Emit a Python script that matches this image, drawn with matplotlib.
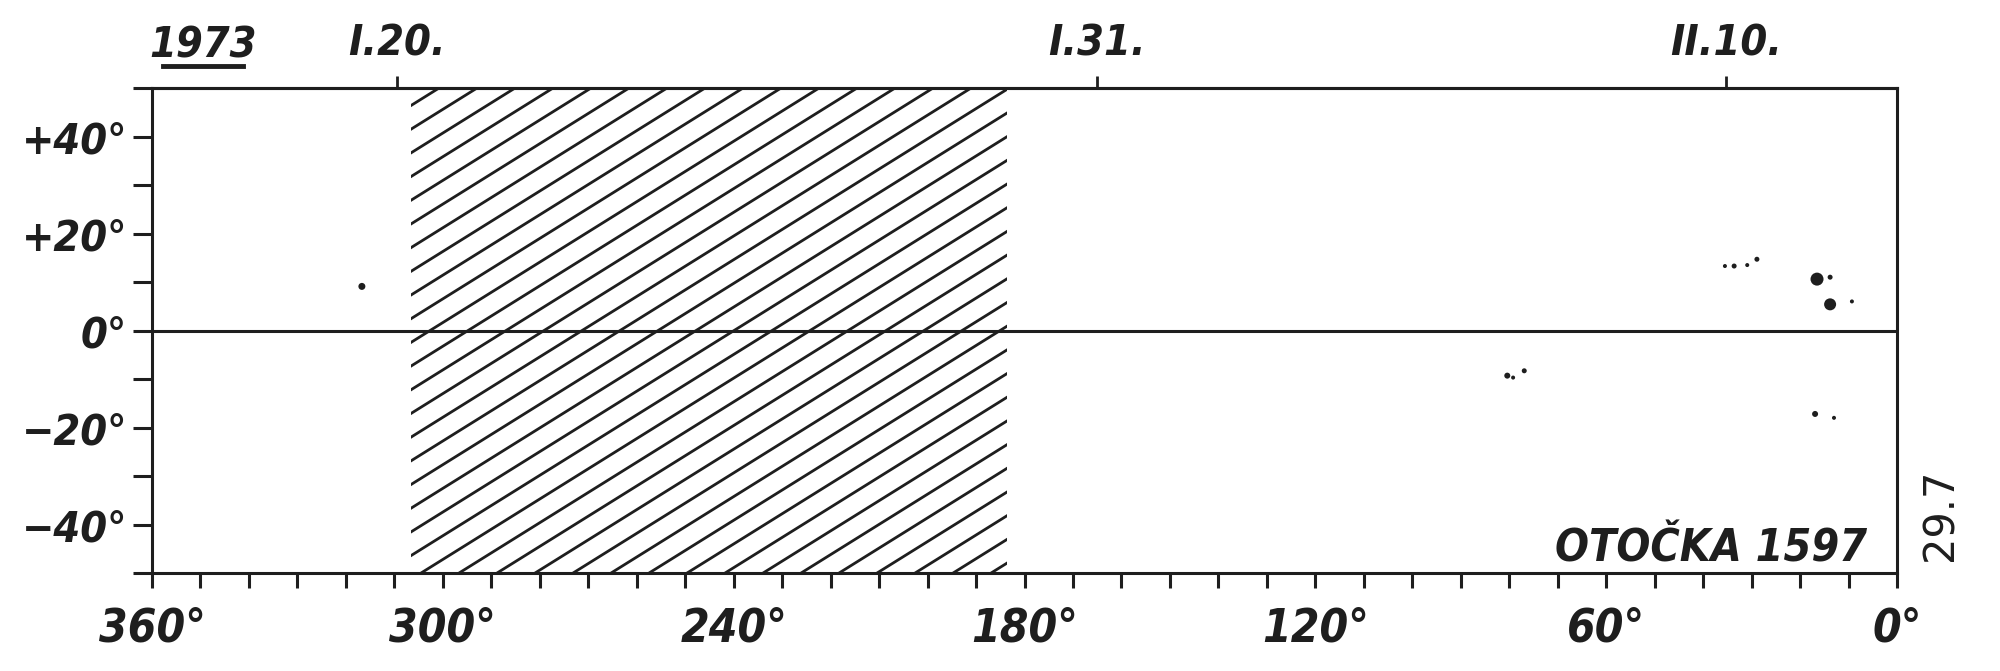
import numpy as np
import matplotlib
matplotlib.use("Agg")
import matplotlib.pyplot as plt
from matplotlib.patches import Rectangle
from matplotlib.lines import Line2D

plt.rcParams['font.family'] = ['DejaVu Sans']
plt.rcParams['font.stretch'] = 'condensed'
plt.rcParams['font.weight'] = 'bold'

ink = '#1e1e1e'

# observed spots: longitude, latitude (deg), spot diameter (px)
spot_lon = [316.7, 35.5, 33.6, 30.9, 28.9, 16.5, 13.8, 13.8, 9.3,
            80.4, 79.2, 76.9, 16.9, 13.0]
spot_lat = [9.1, 13.3, 13.3, 13.5, 14.7, 10.6, 11.0, 5.4, 6.0,
            -9.3, -9.7, -8.3, -17.2, -18.0]
spot_size = [7, 4, 5, 4, 5, 13, 5, 12, 4, 6, 4, 5, 6, 4]

# hatched (no data) interval
gap_lon = (183.6, 306.5)

# date marks on top axis
date_lon = [309.5, 165.0, 35.3]
date_labels = ['I.20.', 'I.31.', 'II.10.']

xlabels = ['360°', '300°', '240°', '180°', '120°', '60°', '0°']
xlabel_pos = [360, 300, 240, 180, 120, 60, 0]
ylabels = ['+40°', '+20°', '0°', '−20°', '−40°']
ylabel_pos = [40, 20, 0, -20, -40]

fig = plt.figure(figsize=(20, 6.71), dpi=100)
ax = fig.add_axes([0.076, 0.146, 0.8725, 0.7228])
ax.set_xlim(360, 0)
ax.set_ylim(-50, 50)

for s in ax.spines.values():
    s.set_linewidth(2.2)
    s.set_color(ink)

ax.set_xticks(xlabel_pos, labels=xlabels)
ax.set_xticks(np.arange(0, 361, 10), minor=True)
ax.set_yticks(ylabel_pos, labels=ylabels)
ax.set_yticks(np.arange(-50, 51, 10), minor=True)
ax.tick_params(axis='x', which='both', direction='out', length=11, width=2.2,
               color=ink, pad=13, labelsize=33, labelcolor=ink)
ax.tick_params(axis='y', which='both', direction='out', length=14, width=2.2,
               color=ink, pad=4, labelsize=31, labelcolor=ink)
for lab in ax.get_xticklabels() + ax.get_yticklabels():
    lab.set_fontstyle('italic')

ax.axhline(0, color=ink, lw=2.2)

# hatched gap, lines rising to the right
rect = Rectangle((gap_lon[0], -50), gap_lon[1] - gap_lon[0], 100,
                 fill=False, lw=0)
ax.add_patch(rect)
slope = 0.623
step = 7.84
cross = np.arange(255.6 - 30 * step, 255.6 + 30 * step, step)
for c in cross:
    lon = np.array([c + 90, c - 90])
    ln, = ax.plot(lon, slope * (c - lon), color=ink, lw=2.0)
    ln.set_clip_path(rect)

# spots
ax.scatter(spot_lon, spot_lat, s=(np.array(spot_size) * 0.72) ** 2,
           color=ink, edgecolors='none', zorder=3)

# top date axis
sec = ax.secondary_xaxis('top')
sec.set_xticks(date_lon, labels=date_labels)
sec.tick_params(direction='out', length=9, width=2.0, color=ink, pad=8,
                labelsize=31, labelcolor=ink)
for lab in sec.get_xticklabels():
    lab.set_fontstyle('italic')
sec.spines['top'].set_linewidth(2.2)

fig.text(0.1015, 1 - 46 / 671, '1973', ha='center', va='center',
         fontsize=31, fontstyle='italic', color=ink)
fig.add_artist(Line2D([163 / 2000, 243 / 2000], [1 - 66 / 671, 1 - 66 / 671],
                      color=ink, lw=3.5))

ax.text(6.2, -47.6, 'OTOČKA 1597', ha='right', va='baseline',
        fontsize=32, fontstyle='italic', color=ink)
fig.text(1940 / 2000, 1 - 515 / 671, '29.7', rotation=90, ha='center',
         va='center', fontsize=30, color=ink, stretch='normal',
         weight='normal')

fig.savefig('out.png', dpi=100, facecolor='white')
